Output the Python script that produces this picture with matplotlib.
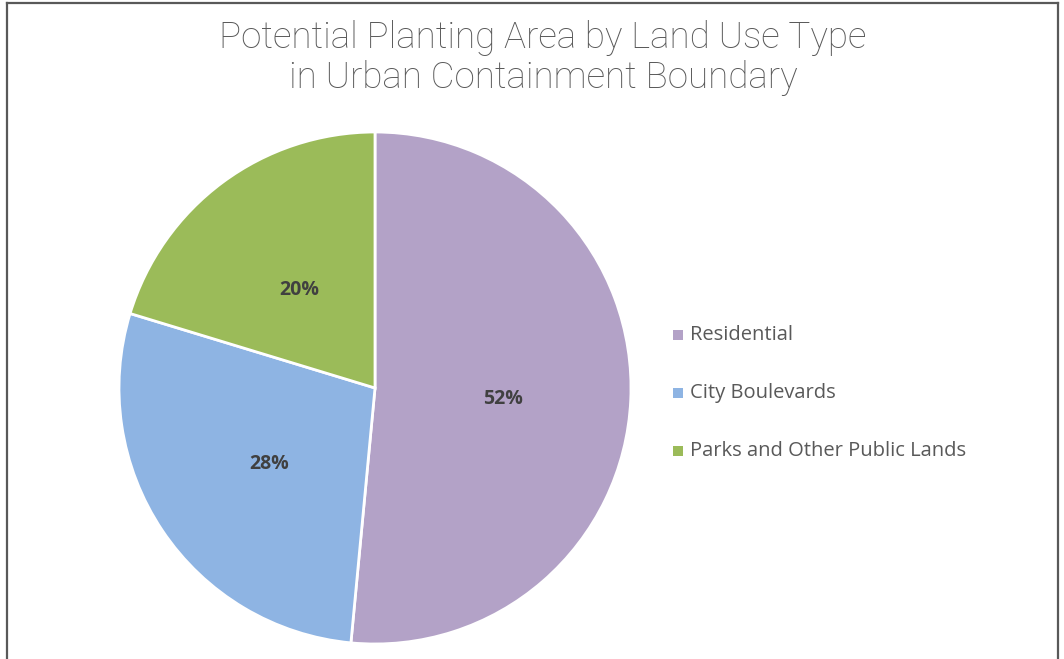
import matplotlib
matplotlib.use("Agg")
import matplotlib.pyplot as plt
from matplotlib.lines import Line2D
from matplotlib.patches import Rectangle

title = "Potential Planting Area by Land Use Type\nin Urban Containment Boundary"
categories = ["Residential", "City Boulevards", "Parks and Other Public Lands"]
values = [51.5, 28.2, 20.3]
colors = ["#B3A2C7", "#8EB4E3", "#9BBB59"]

W, H = 1064, 659
fig = plt.figure(figsize=(W / 100, H / 100), dpi=100)
fig.patch.set_facecolor("white")

# frame border (bottom is cut off)
fig.add_artist(Line2D([7 / W, 7 / W], [0, 1 - 3 / H], transform=fig.transFigure, color="#595959", lw=1.6))
fig.add_artist(Line2D([7 / W, 1058 / W], [1 - 3 / H, 1 - 3 / H], transform=fig.transFigure, color="#595959", lw=1.6))
fig.add_artist(Line2D([1058 / W, 1058 / W], [0, 1 - 3 / H], transform=fig.transFigure, color="#595959", lw=1.6))

cx, cy, r = 375, 388, 256
ax = fig.add_axes([(cx - r) / W, (H - cy - r) / H, 2 * r / W, 2 * r / H])
wedges, texts, autotexts = ax.pie(
    values, colors=colors, startangle=90, counterclock=False,
    autopct=lambda p: f"{p:.0f}%", pctdistance=0.5,
    wedgeprops=dict(edgecolor="white", linewidth=2),
    textprops=dict(fontsize=14, fontweight="bold", color="#404040", family="Open Sans"),
)
for t in autotexts:
    x, y = t.get_position()
    t.set_position((x, y - 0.02))
ax.set_xlim(-1, 1)
ax.set_ylim(-1, 1)
ax.set_aspect("equal")
ax.axis("off")

fig.text(543 / W, 1 - 58 / H, title, ha="center", va="center", fontsize=26.5,
         color="#595959", family="Roboto", fontweight="light", linespacing=1.15)

for i, (cat, col) in enumerate(zip(categories, colors)):
    y = 335 + i * 58
    fig.patches.append(Rectangle((673 / W, 1 - (y + 5) / H), 10 / W, 10 / H,
                                 transform=fig.transFigure, facecolor=col, edgecolor="none"))
    fig.text(690 / W, 1 - y / H, cat, ha="left", va="center", fontsize=14.5,
             color="#595959", family="Open Sans")

fig.savefig("out.png", dpi=100, facecolor="white")
